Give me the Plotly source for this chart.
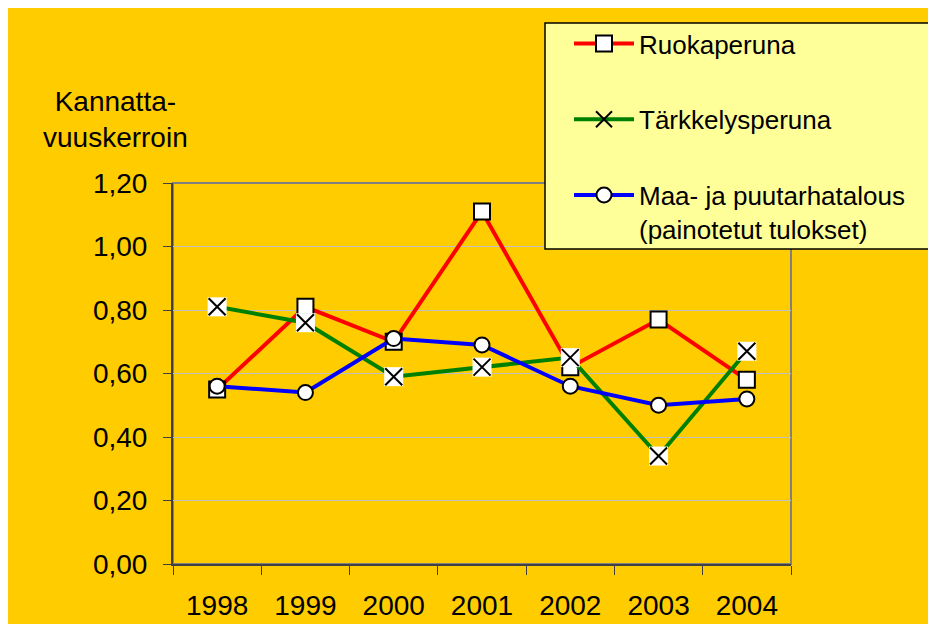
import plotly.graph_objects as go

years = ["1998", "1999", "2000", "2001", "2002", "2003", "2004"]
ruoka = [0.55, 0.81, 0.70, 1.11, 0.62, 0.77, 0.58]
tarkkelys = [0.81, 0.76, 0.59, 0.62, 0.65, 0.34, 0.67]
maa = [0.56, 0.54, 0.71, 0.69, 0.56, 0.50, 0.52]
y_ticks = [0.0, 0.2, 0.4, 0.6, 0.8, 1.0, 1.2]

# page body has an 8px margin; figure coordinates = reference pixels - 8
OFF = 8
W, H = 936, 624
L, R, T, B = 165, 153, 175, 68
pw, ph = W - L - R, H - T - B

def px_x(p):
    return (p - OFF - L) / pw

def px_y(p):
    return (H - B - (p - OFF)) / ph

fig = go.Figure()

fig.add_trace(go.Scatter(
    x=years, y=ruoka, name="Ruokaperuna", mode="lines+markers",
    line=dict(color="#FF0000", width=4),
    marker=dict(symbol="square", size=16, color="white", line=dict(color="black", width=2)),
    legendgroup="a",
))
fig.add_trace(go.Scatter(
    x=years, y=tarkkelys, name="Tärkkelysperuna", mode="lines+markers",
    line=dict(color="#008000", width=4),
    marker=dict(symbol="x-thin", size=16, color="black", line=dict(color="black", width=2)),
    legendgroup="b",
))
fig.add_trace(go.Scatter(
    x=years, y=tarkkelys, mode="markers", showlegend=False, hoverinfo="skip",
    marker=dict(symbol="square", size=19, color="white", line=dict(width=0)),
    legendgroup="b",
))
fig.add_trace(go.Scatter(
    x=years, y=tarkkelys, mode="markers", showlegend=False, hoverinfo="skip",
    marker=dict(symbol="x-thin", size=17, color="black", line=dict(color="black", width=2)),
    legendgroup="b",
))
fig.add_trace(go.Scatter(
    x=years, y=maa, name="Maa- ja puutarhatalous<br>(painotetut tulokset)", mode="lines+markers",
    line=dict(color="#0000FF", width=4),
    marker=dict(symbol="circle", size=15, color="white", line=dict(color="black", width=2)),
    legendgroup="c",
))

fig.update_layout(
    width=W, height=H,
    margin=dict(l=L, r=R, t=T, b=B, pad=0, autoexpand=False),
    paper_bgcolor="#FFCC00",
    plot_bgcolor="rgba(0,0,0,0)",
    font=dict(family="Liberation Sans, Arial, sans-serif", size=28, color="black"),
    separators=", ",
    showlegend=True,
    legend=dict(
        x=px_x(569), y=px_y(20), xanchor="left", yanchor="top",
        bgcolor="rgba(0,0,0,0)", borderwidth=0,
        font=dict(size=26), tracegroupgap=39, traceorder="grouped",
        itemwidth=60, valign="top",
    ),
    shapes=[
        dict(type="rect", xref="paper", yref="paper", layer="below",
             x0=0, x1=1, y0=0, y1=1,
             fillcolor="rgba(0,0,0,0)", line=dict(color="#808080", width=2)),
        dict(type="rect", xref="paper", yref="paper", layer="above",
             x0=px_x(545), x1=px_x(935.5), y0=px_y(249), y1=px_y(23),
             fillcolor="#FFFF99", line=dict(color="black", width=1.5)),
    ],
    annotations=[
        dict(text="Kannatta-<br>vuuskerroin", xref="paper", yref="paper",
             x=px_x(115), y=px_y(119), xanchor="center", yanchor="middle",
             showarrow=False, font=dict(size=28), align="center"),
    ],
)

fig.update_xaxes(
    type="category", range=[-0.5, 6.5], showgrid=False, automargin=False,
    showline=True, linecolor="#404040", linewidth=2,
    ticks="outside", tickson="boundaries", ticklen=9, tickwidth=1, tickcolor="#404040",
    ticklabelstandoff=15, tickfont=dict(size=28),
)
fig.update_yaxes(
    range=[0, 1.2], tickvals=y_ticks, tickformat=".2f", automargin=False,
    showgrid=True, gridcolor="#C0C0C0", gridwidth=1,
    showline=True, linecolor="#404040", linewidth=2,
    ticks="outside", ticklen=8, tickwidth=1, tickcolor="#404040",
    ticklabelstandoff=10, tickfont=dict(size=28), zeroline=False,
)

fig.write_html("out.html")
